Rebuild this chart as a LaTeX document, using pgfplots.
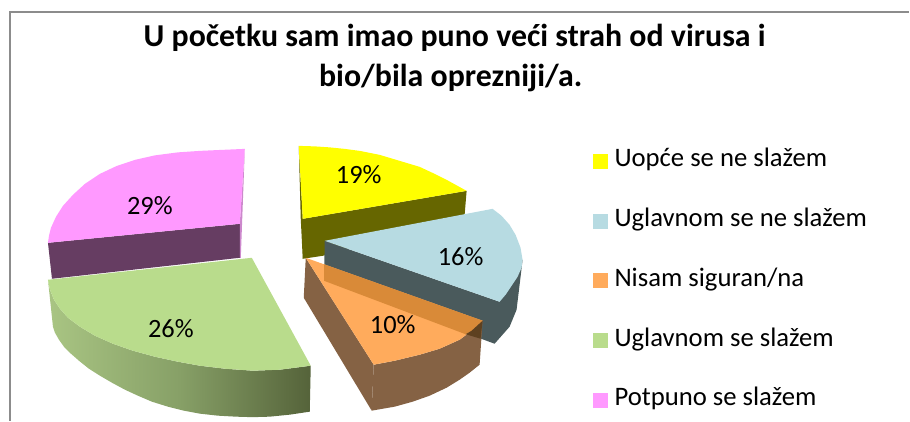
\documentclass[border=0pt]{standalone}
\usepackage{pgfplots}
\pgfplotsset{compat=1.18}
\usepackage{fontspec}
\setmainfont{Carlito}
\definecolor{cY}{HTML}{FFFF00}
\definecolor{cYs}{HTML}{666600}
\definecolor{cB}{HTML}{B7DBE2}
\definecolor{cBs}{HTML}{4A5A5C}
\definecolor{cO}{HTML}{FFAB5C}
\definecolor{cOs}{HTML}{856244}
\definecolor{cOv}{HTML}{D98A38}
\definecolor{cOd}{HTML}{5E4120}
\definecolor{cG}{HTML}{B9DC8C}
\definecolor{cGl}{HTML}{A9C583}
\definecolor{cGm}{HTML}{87A067}
\definecolor{cGd}{HTML}{55633A}
\definecolor{cP}{HTML}{FF99FF}
\definecolor{cPs}{HTML}{663D62}
\definecolor{cPl}{HTML}{CC88CC}
\definecolor{cBorder}{HTML}{8C8C8C}
\begin{document}
\begin{tikzpicture}
\begin{axis}[
  scale only axis, width=910bp, height=421bp,
  xmin=0, xmax=910, ymin=0, ymax=421, y dir=reverse,
  hide axis, clip=false,
  legend cell align=left,
  legend image code/.code={\fill[#1] (0bp,-7.5bp) rectangle (15bp,7.5bp);},
  legend style={at={(axis cs:593,150)}, anchor=north west, draw=none, fill=none,
    font=\fontsize{26.8}{26.8}\selectfont, inner sep=0pt, outer sep=0pt, row sep=36.8bp,
    nodes={text height=17bp, text depth=6bp, inner sep=0pt, anchor=west},
    /tikz/every odd column/.append style={column sep=7bp}},
]
\path (axis cs:0,0) (axis cs:910,421);
% border
\addplot[cBorder, line width=1.5bp, forget plot] coordinates {(10,421) (10,12) (910,12)};
% pink sides
\addplot[draw=none, fill=cPs, forget plot] coordinates {(48,243) (240,224) (240,258) (52,279)} -- cycle;
\addplot[draw=none, fill=cPl, forget plot] coordinates {(245,149) (240,224) (240,258) (241,258)} -- cycle;
% yellow
\addplot[draw=none, fill=cYs, forget plot] coordinates {(303,219) (467,191) (465,215) (323,256) (303,259)} -- cycle;
\addplot[draw=none, fill=cYs, forget plot] coordinates {(299,146) (303,219) (303,259) (301,219)} -- cycle;
\addplot[draw=none, fill=cY] coordinates {(299,146) (315,146.5) (330,147.5) (345,149) (360,151) (380,155) (400,161) (420,167) (435,174) (447,180) (467,191) (303,219)} -- cycle;
\addlegendentry{Uopće se ne slažem}
% blue
\addplot[draw=none, fill=cBs, forget plot] coordinates {(325,241) (500,302) (523,260) (521,277) (517,310) (510,327) (495,344) (324.3,281)} -- cycle;
\addplot[draw=none, fill=cB] coordinates {(325,241) (493,209) (502,216) (510,225) (516,235) (521,248) (523,260) (522,268) (518,277) (512,286) (506,295) (500,302)} -- cycle;
\addlegendentry{Uglavnom se ne slažem}
% orange
\addplot[draw=none, fill=cOs, forget plot] coordinates {(306,258) (374,365) (372,411) (304,298)} -- cycle;
\addplot[draw=none, fill=cOs, forget plot] coordinates {(374,365) (395,361) (420,355) (440,349) (460,340) (472,331) (483,321) (480,365) (470,373) (460,380) (447,388) (430,396) (413,402) (395,407) (372,411)} -- cycle;
\addplot[draw=none, fill=cO] coordinates {(306,258) (483,321) (472,331) (460,340) (440,349) (420,355) (395,361) (374,365)} -- cycle;
\addlegendentry{Nisam siguran/na}
\addplot[draw=none, fill=cOv, forget plot] coordinates {(324.3,264.5) (483,321) (472,331) (466,334.5) (324.3,281)} -- cycle;
\addplot[draw=none, fill=cOd, forget plot] coordinates {(483,321) (481,339) (466,334.5) (472,331)} -- cycle;
% green
\addplot[draw=none, left color=cGl, right color=cGd, middle color=cGm, forget plot] coordinates {(48,280) (50,290) (54,300) (60,309) (68,318) (80,327) (95,336) (113,344) (133,351) (155,357) (178,362) (200,366) (225,369) (253,371) (280,370) (311,366) (310,412) (290,415) (270,417) (253,417.5) (236,417) (218,416) (200,414) (184,411) (168,407) (152,402) (138,396) (125,390) (112,383) (100,376) (89,369) (79,361) (71,354) (64,347) (59,340) (55,333) (53,327)} -- cycle;
\addplot[draw=none, fill=cG] coordinates {(252,258) (311,366) (280,370) (253,371) (225,369) (200,366) (178,362) (155,357) (133,351) (113,344) (95,336) (80,327) (68,318) (60,309) (54,300) (50,290) (48,280)} -- cycle;
\addlegendentry{Uglavnom se slažem}
% pink top
\addplot[draw=none, fill=cP] coordinates {(240,224) (48,243) (49,236) (51,228) (56,217) (63,206) (73,195) (85,184) (100,174) (117,166) (135,160) (155,155.5) (178,152.5) (200,151) (222,150) (245,149)} -- cycle;
\addlegendentry{Potpuno se slažem}
% data labels
\foreach \x/\y/\t in {359/175/19, 461/257/16, 393/325/10, 171/329/26, 150/206/29}{
  \edef\tmp{\noexpand\node[font=\noexpand\fontsize{26.5}{27}\noexpand\selectfont, inner sep=0pt] at (axis cs:\x,\y) {\t\noexpand\%};}
  \tmp
}
% title
\node[font=\fontsize{32}{40}\selectfont\bfseries, inner sep=0pt, anchor=base] at (axis cs:455,47) {U početku sam imao puno veći strah od virusa i};
\node[font=\fontsize{32}{40}\selectfont\bfseries, inner sep=0pt, anchor=base] at (axis cs:451,87) {bio/bila oprezniji/a.};
\end{axis}
\end{tikzpicture}
\end{document}
